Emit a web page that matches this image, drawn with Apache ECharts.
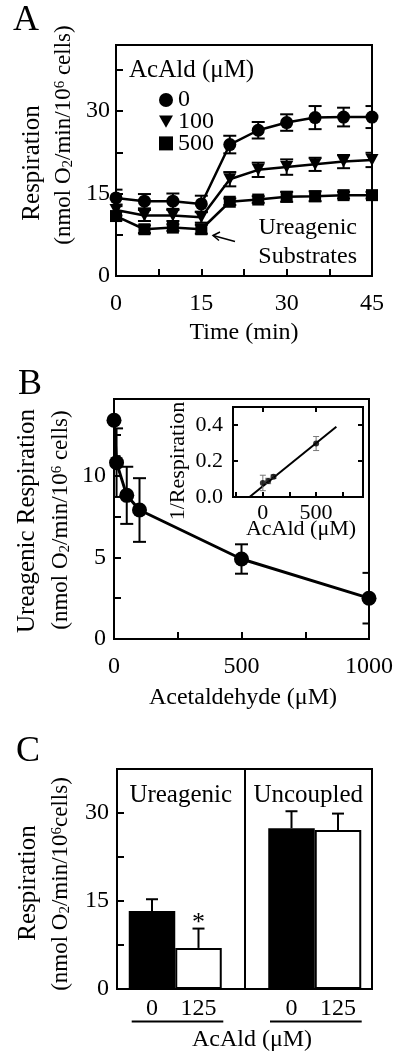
<!DOCTYPE html>
<html>
<head>
<meta charset="utf-8">
<script src="https://cdn.jsdelivr.net/npm/echarts@6/dist/echarts.min.js"></script>
<style>
html,body{margin:0;padding:0;background:#fff;}
#chart{width:396px;height:1051px;}
</style>
</head>
<body>
<div id="chart"></div>
<script>
// ---------- Panel A data ----------
const timeMin = [0, 5, 10, 15, 20, 25, 30, 35, 40, 45];
const resp0 = [14.2, 13.6, 13.6, 13.1, 23.9, 26.5, 27.9, 28.8, 28.9, 28.9];
const resp0Err = [1.5, 1.3, 1.4, 1.5, 1.6, 1.5, 1.5, 2.1, 1.7, 2.0];
const resp100 = [12.0, 11.0, 11.0, 10.7, 17.6, 19.3, 19.8, 20.3, 20.8, 21.1];
const resp100Err = [1.0, 1.0, 1.0, 1.0, 1.3, 1.3, 1.4, 1.2, 1.2, 1.3];
const resp500 = [10.9, 8.5, 8.8, 8.5, 13.5, 13.9, 14.4, 14.5, 14.7, 14.7];
const resp500Err = [0.8, 0.7, 0.6, 0.8, 0.6, 0.6, 0.9, 0.9, 0.6, 0.6];
const doseNames = ['0', '100', '500'];

// ---------- Panel B data ----------
const acald = [0, 10, 50, 100, 500, 1000];
const ureaResp = [13.4, 10.8, 8.8, 7.9, 4.9, 2.5];
const ureaErr = [2.2, 2.1, 1.75, 1.95, 0.9, 1.55];
// inset (reciprocal plot)
const invX = [0, 50, 100, 500];
const invResp = [0.078, 0.089, 0.113, 0.297];
const invErr = [0.043, 0.015, 0.010, 0.039];
const fitX = [-125, 690];
const fitY = [0.0, 0.39];

// ---------- Panel C data ----------
const cGroups = ['Ureagenic', 'Uncoupled'];
const cDoses = ['0', '125'];
const cResp = [[13.3, 7.0], [27.4, 27.1]];
const cErr = [[2.0, 3.3], [2.9, 2.8]];
const cSig = [['', '*'], ['', '']];

// ---------- helpers ----------
const FONT = '"Liberation Serif", "Times New Roman", serif';
const TXT = {color: '#000', fontFamily: FONT, fontSize: 24};

function errSeries(xi, yi, xs, ys, es, cap, lw, color, z) {
  return {
    type: 'custom', xAxisIndex: xi, yAxisIndex: yi, z: z || 2, clip: true, silent: true,
    data: xs.map((x, i) => [x, ys[i] - es[i], ys[i] + es[i]]),
    encode: {x: 0, y: [1, 2]},
    renderItem: function (params, api) {
      const x = api.value(0);
      const a = api.coord([x, api.value(1)]);
      const b = api.coord([x, api.value(2)]);
      const st = {stroke: color, lineWidth: lw};
      const w = cap / 2;
      return {type: 'group', children: [
        {type: 'line', shape: {x1: a[0], y1: a[1], x2: b[0], y2: b[1]}, style: st},
        {type: 'line', shape: {x1: a[0] - w, y1: a[1], x2: a[0] + w, y2: a[1]}, style: st},
        {type: 'line', shape: {x1: b[0] - w, y1: b[1], x2: b[0] + w, y2: b[1]}, style: st}
      ]};
    }
  };
}

// Panel C categories (gap between the two groups)
const cCats = [];
const cBarData = [];
const cErrData = [];
cGroups.forEach((g, gi) => {
  if (gi > 0) { cCats.push(''); cBarData.push('-'); }
  cDoses.forEach((d, di) => {
    const idx = cCats.length;
    cCats.push(d);
    cBarData.push({value: cResp[gi][di], itemStyle: {color: di === 0 ? '#000' : '#fff'}});
    cErrData.push([idx, cResp[gi][di], cResp[gi][di] + cErr[gi][di], cSig[gi][di]]);
  });
});

const axisLineStyle = {onZero: false, lineStyle: {color: '#000', width: 2}};
const tickIn = (len) => ({show: true, inside: true, length: len || 6, lineStyle: {color: '#000', width: 2}});

const tri = 'path://M0,0L10,0L5,8.7Z';
const symbols = ['circle', tri, 'rect'];
const symSizes = [13, [13, 12], 12];
const aSeries = [resp0, resp100, resp500];
const aErrs = [resp0Err, resp100Err, resp500Err];

const series = [];
aSeries.forEach((s, k) => {
  series.push(errSeries(0, 0, timeMin, s, aErrs[k], 13, 2, '#000', 2));
});
aSeries.forEach((s, k) => {
  series.push({
    type: 'line', name: doseNames[k], xAxisIndex: 0, yAxisIndex: 0, z: 3,
    data: timeMin.map((t, i) => [t, s[i]]),
    symbol: symbols[k], symbolSize: symSizes[k], showSymbol: true,
    itemStyle: {color: '#000'}, lineStyle: {color: '#000', width: 2.5}
  });
});
// Panel B
series.push(errSeries(1, 1, acald, ureaResp, ureaErr, 13, 2, '#000', 2));
series.push({
  type: 'line', xAxisIndex: 1, yAxisIndex: 1, z: 3,
  data: acald.map((x, i) => [x, ureaResp[i]]),
  symbol: 'circle', symbolSize: 15, itemStyle: {color: '#000'},
  lineStyle: {color: '#000', width: 3}
});
// inset
series.push({
  type: 'line', xAxisIndex: 2, yAxisIndex: 2, z: 2,
  data: fitX.map((x, i) => [x, fitY[i]]), showSymbol: false, symbol: 'none',
  lineStyle: {color: '#000', width: 2}
});
series.push(errSeries(2, 2, invX, invResp, invErr, 6, 1, '#777', 3));
series.push({
  type: 'scatter', xAxisIndex: 2, yAxisIndex: 2, z: 4,
  data: invX.map((x, i) => [x, invResp[i]]),
  symbol: 'circle', symbolSize: 6, itemStyle: {color: '#000'}
});
// Panel C
series.push({
  type: 'bar', xAxisIndex: 6, yAxisIndex: 5, z: 2,
  data: cBarData, barWidth: '100%', barCategoryGap: '0%',
  itemStyle: {borderColor: '#000', borderWidth: 2}
});
series.push({
  type: 'custom', xAxisIndex: 6, yAxisIndex: 5, z: 3, silent: true,
  data: cErrData, encode: {x: 0, y: [1, 2]},
  renderItem: function (params, api) {
    const i = api.value(0);
    const a = api.coord([i, api.value(1)]);
    const b = api.coord([i, api.value(2)]);
    const sig = cErrData[params.dataIndex][3];
    const st = {stroke: '#000', lineWidth: 2};
    const ch = [
      {type: 'line', shape: {x1: a[0], y1: a[1], x2: b[0], y2: b[1]}, style: st},
      {type: 'line', shape: {x1: b[0] - 6, y1: b[1], x2: b[0] + 6, y2: b[1]}, style: st}
    ];
    if (sig) ch.push({type: 'text', x: b[0], y: b[1] + 8,
      style: {text: sig, font: '26px ' + FONT, fill: '#000', align: 'center', verticalAlign: 'bottom'}});
    return {type: 'group', children: ch};
  }
});

const rich = {
  sub: {fontSize: 15, fontFamily: FONT, verticalAlign: 'bottom', lineHeight: 14},
  sup: {fontSize: 15, fontFamily: FONT, verticalAlign: 'top', lineHeight: 14}
};
function vText(x, y, text, size) {
  return {type: 'text', x: x, y: y, rotation: Math.PI / 2,
    style: {text: text, font: (size || 23) + 'px ' + FONT, fill: '#000', align: 'center', verticalAlign: 'middle',
      rich: rich}};
}
function hText(x, y, text, size, align) {
  return {type: 'text', x: x, y: y,
    style: {text: text, font: (size || 24) + 'px ' + FONT, fill: '#000', align: align || 'center', verticalAlign: 'middle'}};
}
const unitLabel = '(nmol O{sub|2}/min/10{sup|6} cells)';
const unitLabelC = '(nmol O{sub|2}/min/10{sup|6}cells)';

const option = {
  animation: false,
  backgroundColor: '#fff',
  textStyle: {fontFamily: FONT, color: '#000'},
  legend: {
    data: doseNames.map((n, k) => ({name: n, icon: symbols[k]})),
    orient: 'vertical', left: 154, top: 83, itemWidth: 14, itemHeight: 14, itemGap: -2.3,
    textStyle: {color: '#000', fontFamily: FONT, fontSize: 24},
    itemStyle: {color: '#000', borderWidth: 0}, lineStyle: {width: 0}, selectedMode: false
  },
  grid: [
    {left: 116, top: 45, width: 256, height: 231, show: true, borderColor: '#000', borderWidth: 2, backgroundColor: 'transparent'},
    {left: 114, top: 399, width: 256, height: 240, show: true, borderColor: '#000', borderWidth: 2, backgroundColor: 'transparent'},
    {left: 233, top: 407, width: 130, height: 90, show: true, borderColor: '#000', borderWidth: 2, backgroundColor: 'transparent'},
    {left: 117, top: 769, width: 255, height: 220, show: true, borderColor: '#000', borderWidth: 2, backgroundColor: 'transparent'},
    {left: 128.75, top: 769, width: 232.5, height: 220, show: false}
  ],
  xAxis: [
    {type: 'value', gridIndex: 0, min: 0, max: 45, interval: 7.5, axisLine: axisLineStyle, axisTick: tickIn(7),
      splitLine: {show: false},
      axisLabel: {...TXT, margin: 16, formatter: v => (v % 15 === 0 ? String(v) : '')}},
    {type: 'value', gridIndex: 1, min: 0, max: 1000, interval: 250, axisLine: axisLineStyle, axisTick: tickIn(7),
      splitLine: {show: false},
      axisLabel: {...TXT, margin: 16, formatter: v => (v % 500 === 0 ? String(v) : '')}},
    {type: 'value', gridIndex: 2, min: -280, max: 940, position: 'bottom', axisLine: axisLineStyle,
      axisTick: {...tickIn(5), customValues: [-250, 0, 250, 500, 750]}, splitLine: {show: false},
      axisLabel: {...TXT, fontSize: 22, margin: 5, customValues: [0, 500]}},
    {type: 'value', gridIndex: 2, min: -280, max: 940, position: 'top', axisLine: axisLineStyle,
      axisTick: {...tickIn(5), customValues: [0, 500]}, splitLine: {show: false}, axisLabel: {show: false}},
    {type: 'category', gridIndex: 3, position: 'top', data: cGroups, boundaryGap: true,
      axisLine: axisLineStyle, axisTick: {show: false},
      splitLine: {show: true, interval: 0, lineStyle: {color: '#000', width: 2}},
      axisLabel: {...TXT, fontSize: 25, inside: true, margin: 14, interval: 0, hideOverlap: false}},
    {type: 'value', gridIndex: 3, min: 0, max: 1, show: false},
    {type: 'category', gridIndex: 4, data: cCats, boundaryGap: true,
      axisLine: {show: false}, axisTick: {show: false},
      axisLabel: {...TXT, interval: 0, margin: 8}}
  ],
  yAxis: [
    {type: 'value', gridIndex: 0, min: 0, max: 42, interval: 7.5, axisLine: axisLineStyle, axisTick: tickIn(7),
      splitLine: {show: false},
      axisLabel: {...TXT, margin: 6, formatter: v => (v % 15 === 0 ? String(v) : '')}},
    {type: 'value', gridIndex: 1, min: 0, max: 14.7, interval: 2.5, axisLine: axisLineStyle, axisTick: tickIn(7),
      splitLine: {show: false},
      axisLabel: {...TXT, margin: 8, formatter: v => (v % 5 === 0 ? String(v) : '')}},
    {type: 'value', gridIndex: 2, min: 0, max: 0.5, position: 'left', axisLine: axisLineStyle,
      axisTick: {...tickIn(5), customValues: [0.2, 0.4]}, splitLine: {show: false},
      axisLabel: {...TXT, fontSize: 22, margin: 10, customValues: [0, 0.2, 0.4], formatter: v => v.toFixed(1)}},
    {type: 'value', gridIndex: 2, min: 0, max: 0.5, position: 'right', axisLine: axisLineStyle,
      axisTick: {...tickIn(5), customValues: [0.2, 0.4]}, splitLine: {show: false}, axisLabel: {show: false}},
    {type: 'value', gridIndex: 3, min: 0, max: 37.5, interval: 7.5, axisLine: axisLineStyle, axisTick: tickIn(7),
      splitLine: {show: false},
      axisLabel: {...TXT, margin: 8, formatter: v => (v % 15 === 0 ? String(v) : '')}},
    {type: 'value', gridIndex: 4, min: 0, max: 37.5, show: false}
  ],
  series: series,
  graphic: [
    hText(26, 21, 'A', 36),
    hText(30, 385, 'B', 36),
    hText(28, 752, 'C', 36),
    // Panel A texts
    vText(32, 163, 'Respiration', 25),
    vText(64, 135, unitLabel),
    hText(244, 333, 'Time (min)'),
    hText(129, 70, 'AcAld (\u03bcM)', 25, 'left'),
    hText(357, 228, 'Ureagenic', 24, 'right'),
    hText(357, 257, 'Substrates', 24, 'right'),
    {type: 'polyline', shape: {points: [[235, 241.5], [213, 235.5]]}, style: {stroke: '#000', lineWidth: 1.5, fill: null}},
    {type: 'polyline', shape: {points: [[220, 232], [213, 235.5], [219, 240.5]]}, style: {stroke: '#000', lineWidth: 1.5, fill: null}},
    // Panel B texts
    vText(27, 521, 'Ureagenic Respiration', 25),
    vText(61, 520, unitLabel),
    hText(243, 698, 'Acetaldehyde (\u03bcM)'),
    vText(178, 461, '1/Respiration', 22),
    hText(301, 529, 'AcAld (\u03bcM)', 22),
    // Panel C texts
    vText(28, 883, 'Respiration', 25),
    vText(61, 884, unitLabelC),
    {type: 'line', shape: {x1: 131.7, y1: 1021.5, x2: 223.3, y2: 1021.5}, style: {stroke: '#000', lineWidth: 2}},
    {type: 'line', shape: {x1: 270, y1: 1021.5, x2: 361.7, y2: 1021.5}, style: {stroke: '#000', lineWidth: 2}},
    hText(252, 1040, 'AcAld (\u03bcM)')
  ]
};

const chart = echarts.init(document.getElementById('chart'), null, {renderer: 'canvas'});
chart.setOption(option);
</script>
</body>
</html>
